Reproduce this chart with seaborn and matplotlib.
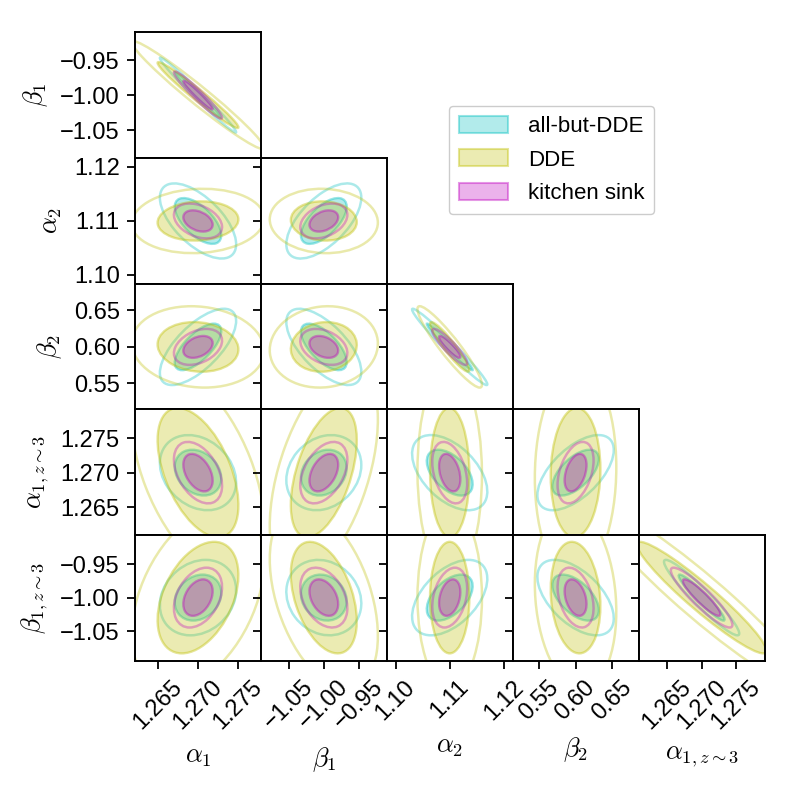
import numpy as np
import matplotlib
matplotlib.use("Agg")
import matplotlib.pyplot as plt
from matplotlib.patches import Ellipse, Patch
import seaborn as sns

# corner plot of three forecasts (Gaussian, 68% / 95% 2D contours)

param_labels = [r"$\alpha_{\mathsf{1}}$", r"$\beta_{\mathsf{1}}$",
                r"$\alpha_{\mathsf{2}}$", r"$\beta_{\mathsf{2}}$",
                r"$\alpha_{\mathsf{1},z\sim\mathsf{3}}$",
                r"$\beta_{\mathsf{1},z\sim\mathsf{3}}$"]
fiducial = [1.27, -1.00, 1.11, 0.60, 1.27, -1.00]
axis_lo = [1.2622, -1.0895, 1.0984, 0.5145, 1.2609, -1.0948]
axis_hi = [1.2778, -0.9100, 1.1217, 0.6866, 1.2792, -0.9067]
tick_vals = [[1.265, 1.270, 1.275], [-1.05, -1.00, -0.95], [1.10, 1.11, 1.12],
             [0.55, 0.60, 0.65], [1.265, 1.270, 1.275], [-1.05, -1.00, -0.95]]
tick_labels = [["1.265", "1.270", "1.275"], ["\u22121.05", "\u22121.00", "\u22120.95"],
               ["1.10", "1.11", "1.12"], ["0.55", "0.60", "0.65"],
               ["1.265", "1.270", "1.275"], ["\u22121.05", "\u22121.00", "\u22120.95"]]

names = ["all-but-DDE", "DDE", "kitchen sink"]
colors = ["#00bfbf", "#bfbf00", "#bf00bf"]   # matplotlib 'c', 'y', 'm'

# marginal 1-sigma errors
sig_abd = [0.0019, 0.0215, 0.0028, 0.0210, 0.0022, 0.0227]
sig_dde = [0.0033, 0.0310, 0.0024, 0.0224, 0.0062, 0.0550]
sig_ks = [0.0012, 0.0135, 0.0013, 0.0099, 0.0018, 0.0180]

# correlation coefficients, lower triangle
corr_abd = [[],
            [-0.988],
            [-0.62, 0.62],
            [0.68, -0.65, -0.98],
            [-0.25, 0.20, -0.50, 0.60],
            [0.20, -0.15, 0.50, -0.55, -0.95]]
corr_dde = [[],
            [-0.976],
            [0.08, -0.05],
            [-0.10, 0.08, -0.93],
            [-0.50, 0.50, -0.02, 0.05],
            [0.40, -0.42, 0.00, -0.15, -0.95]]
corr_ks = [[],
           [-0.96],
           [-0.35, 0.35],
           [0.35, -0.33, -0.90],
           [-0.42, 0.42, -0.35, 0.40],
           [0.35, -0.35, 0.30, -0.35, -0.91]]

sigmas = [sig_abd, sig_dde, sig_ks]
corrs = [corr_abd, corr_dde, corr_ks]

dchi2 = [2.30, 6.17]


def cov_matrix(sig, tri):
    n = len(sig)
    r = np.eye(n)
    for i in range(n):
        for j in range(i):
            r[i, j] = r[j, i] = tri[i][j]
    s = np.array(sig)
    return r * np.outer(s, s)


def add_ellipse(ax, mean, cov, k, color, filled):
    vals, vecs = np.linalg.eigh(cov)
    angle = np.degrees(np.arctan2(vecs[1, 1], vecs[0, 1]))
    w = 2 * np.sqrt(k * vals[1])
    h = 2 * np.sqrt(k * vals[0])
    if filled:
        e = Ellipse(mean, w, h, angle=angle, facecolor=matplotlib.colors.to_rgba(color, 0.3),
                    edgecolor=matplotlib.colors.to_rgba(color, 0.4), lw=1.7)
    else:
        e = Ellipse(mean, w, h, angle=angle, facecolor="none",
                    edgecolor=matplotlib.colors.to_rgba(color, 0.33), lw=1.8)
    ax.add_patch(e)


sns.set_theme(style="ticks", color_codes=False)
plt.rcParams["font.family"] = ["Liberation Sans", "DejaVu Sans"]
plt.rcParams["mathtext.fontset"] = "cm"
plt.rcParams["axes.linewidth"] = 1.4
plt.rcParams["axes.edgecolor"] = "black"
plt.rcParams["text.color"] = "black"
plt.rcParams["axes.labelcolor"] = "black"

covs = [cov_matrix(s, c) for s, c in zip(sigmas, corrs)]

npar = len(param_labels)
fig, axes = plt.subplots(npar - 1, npar - 1, figsize=(7.96, 7.96), dpi=100,
                         gridspec_kw=dict(wspace=0, hspace=0))
fig.subplots_adjust(left=0.1696, right=0.961, bottom=0.1696, top=0.9598)

for i in range(npar - 1):
    py = i + 1
    for j in range(npar - 1):
        ax = axes[i, j]
        if j > i:
            ax.set_visible(False)
            continue
        px = j
        for cov, col in zip(covs, colors):
            sub = cov[np.ix_([px, py], [px, py])]
            mean = (fiducial[px], fiducial[py])
            add_ellipse(ax, mean, sub, dchi2[0], col, True)
            add_ellipse(ax, mean, sub, dchi2[1], col, False)
        ax.set_xlim(axis_lo[px], axis_hi[px])
        ax.set_ylim(axis_lo[py], axis_hi[py])
        ax.set_xticks(tick_vals[px])
        ax.set_yticks(tick_vals[py])
        ax.tick_params(direction="out", length=6, width=1.3, pad=5, labelsize=17,
                       color="black", labelcolor="black")
        if i == npar - 2:
            ax.set_xticklabels(tick_labels[px], rotation=45)
            ax.set_xlabel(param_labels[px], fontsize=19, labelpad=8)
        else:
            ax.tick_params(labelbottom=False)
        if j == 0:
            ax.set_yticklabels(tick_labels[py])
            ax.set_ylabel(param_labels[py], fontsize=19, labelpad=7)
        else:
            ax.tick_params(labelleft=False)

handles = [Patch(facecolor=matplotlib.colors.to_rgba(c, 0.3),
                 edgecolor=matplotlib.colors.to_rgba(c, 0.4), lw=1.5) for c in colors]
leg = fig.legend(handles, names, loc="upper left", bbox_to_anchor=(0.564, 0.867),
                 borderaxespad=0, fontsize=16, frameon=True, fancybox=True,
                 edgecolor="0.8", framealpha=1, handlelength=2.2, handleheight=0.8,
                 handletextpad=0.9, labelspacing=0.55, borderpad=0.45)
for t in leg.get_texts():
    t.set_color("black")

fig.savefig("out.png", dpi=100)
